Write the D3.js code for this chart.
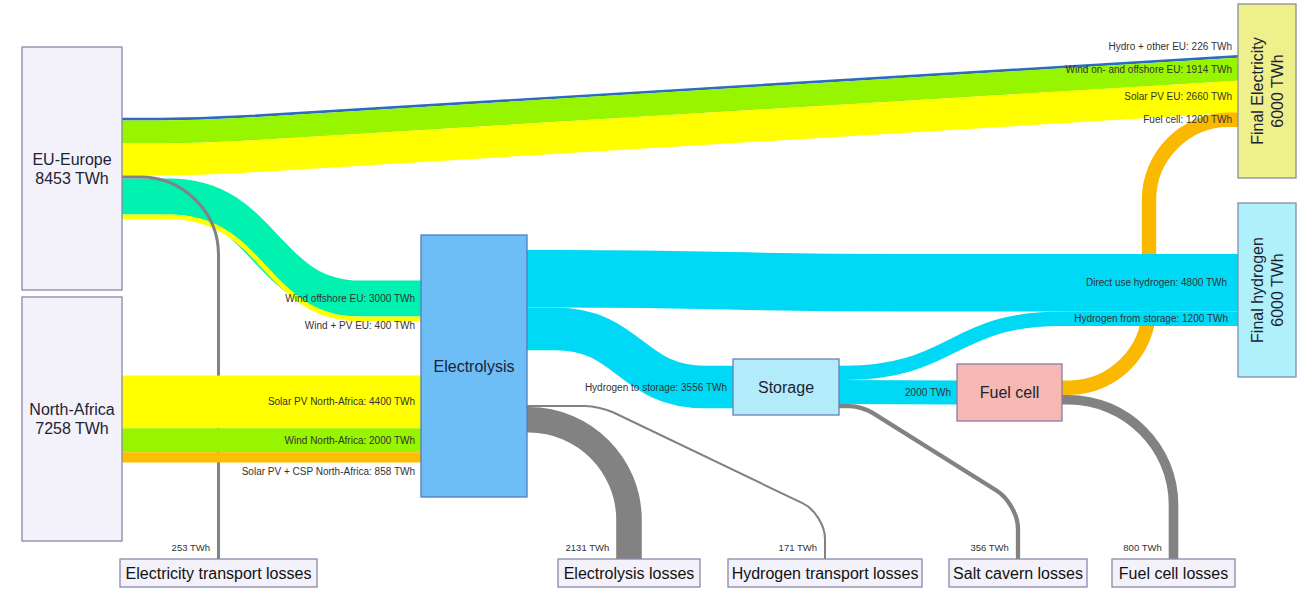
<!DOCTYPE html>
<html>
<head>
<meta charset="utf-8">
<script src="https://cdn.jsdelivr.net/npm/d3@7"></script>
<style>
  body { margin: 0; background: #fff; }
  svg { display: block; font-family: "Liberation Sans", Arial, sans-serif; }
</style>
</head>
<body>
<svg width="1309" height="596"></svg>
<script>
// ---- data (TWh) ----
var nodeNames = ["EU-Europe", "North-Africa", "Electrolysis", "Storage", "Fuel cell",
  "Final Electricity", "Final hydrogen", "Electricity transport losses", "Electrolysis losses",
  "Hydrogen transport losses", "Salt cavern losses", "Fuel cell losses"];
var totalNodes = ["EU-Europe", "North-Africa", "Final Electricity", "Final hydrogen"];

var flowFrom = ["EU-Europe", "EU-Europe", "EU-Europe", "EU-Europe", "EU-Europe", "EU-Europe",
  "North-Africa", "North-Africa", "North-Africa",
  "Electrolysis", "Electrolysis", "Electrolysis", "Electrolysis",
  "Storage", "Storage", "Storage", "Fuel cell", "Fuel cell"];
var flowTo = ["Final Electricity", "Final Electricity", "Final Electricity", "Electricity transport losses",
  "Electrolysis", "Electrolysis", "Electrolysis", "Electrolysis", "Electrolysis",
  "Final hydrogen", "Storage", "Hydrogen transport losses", "Electrolysis losses",
  "Final hydrogen", "Fuel cell", "Salt cavern losses", "Final Electricity", "Fuel cell losses"];
var flowTWh = [226, 1914, 2660, 253, 3000, 400, 4400, 2000, 858, 4800, 3556, 171, 2131, 1200, 2000, 356, 1200, 800];
var flowName = ["Hydro + other EU", "Wind on- and offshore EU", "Solar PV EU", "", "Wind offshore EU",
  "Wind + PV EU", "Solar PV North-Africa", "Wind North-Africa", "Solar PV + CSP North-Africa",
  "Direct use hydrogen", "Hydrogen to storage", "", "", "Hydrogen from storage", "", "", "Fuel cell", ""];

// ---- styles ----
var flowKind = ["hydro", "wind", "solar", "loss", "offshore", "solar", "solar", "wind", "csp",
  "h2", "h2", "loss", "loss", "h2", "h2", "loss", "fuel", "loss"];
var kindColor = { hydro: "#2b6cc0", wind: "#98f500", solar: "#ffff00", offshore: "#00f2b0",
  csp: "#ffbd00", h2: "#00d9f5", fuel: "#fbb800", loss: "#828282" };
var nodeStyle = {
  "Electrolysis": ["#6dbdf6", "#4f7dbd"], "Storage": ["#b2ebfa", "#6b7fb5"],
  "Fuel cell": ["#f5b8b3", "#8f78a8"], "Final Electricity": ["#eef08c", "#8d8d9c"],
  "Final hydrogen": ["#b0f0fa", "#7f8fb0"]
};

// ---- layout ----
var nodeBox = {
  "EU-Europe": [22, 47, 100, 243],
  "North-Africa": [22, 297, 100, 244],
  "Electrolysis": [421, 235, 106, 262],
  "Storage": [733, 359, 106, 56],
  "Fuel cell": [957, 364, 105, 57],
  "Final Electricity": [1238, 4, 58, 174],
  "Final hydrogen": [1238, 203, 58, 174],
  "Electricity transport losses": [120, 559, 197, 28],
  "Electrolysis losses": [558, 559, 142, 28],
  "Hydrogen transport losses": [728, 559, 194, 28],
  "Salt cavern losses": [949, 559, 138, 28],
  "Fuel cell losses": [1112, 559, 123, 28]
};
var lossNodes = nodeNames.slice(7);
var portStart = { "4t": 280.5, "6t": "level", "9s": 250, "11s": 405 };
var route = {
  0: { type: "bend", x: 200, r: 40 }, 1: { type: "bend", x: 200, r: 40 }, 2: { type: "bend", x: 200, r: 40 },
  3: { type: "drop", r: 78 },
  4: { type: "s", xa: 170, xb: 360 }, 5: { type: "s", xa: 170, xb: 360 },
  9: { type: "s", xa: 560, xb: 900 },
  10: { type: "s", xa: 555, xb: 705 },
  11: { type: "slant", x: 600, y: 514, r: [15, 25] },
  12: { type: "drop", r: 100 },
  13: { type: "s", xa: 845, xb: 1060 },
  15: { type: "slant", x: 862, y: 504, r: [12, 25] },
  16: { type: "loop", x: 1149, r: 80 },
  17: { type: "drop", r: 105 }
};
var labelDy = { 0: -9.5, 5: 7, 8: 14.5 };
var labelDx = { 9: -5, 13: -4 };
var drawOrder = [4, 5, 0, 1, 2, 3, 6, 7, 8, 16, 9, 10, 13, 14, 11, 12, 15, 17];

var width = d3.scaleLinear().domain([0, 1000]).range([0, 12]);

var flows = flowTWh.map(function (v, i) {
  return { i: i, v: v, s: flowFrom[i], t: flowTo[i], w: width(v) };
});

// stack the ports on each node side
nodeNames.forEach(function (name) {
  var b = nodeBox[name];
  var outs = flows.filter(function (f) { return f.s === name; });
  var tot = d3.sum(outs, function (f) { return f.w; });
  var cur = b[1] + b[3] / 2 - tot / 2;
  outs.forEach(function (f) {
    if (portStart[f.i + "s"] != null) cur = portStart[f.i + "s"];
    f.sx = b[0] + b[2];
    f.sy = cur + f.w / 2;
    cur += f.w;
  });
});
nodeNames.forEach(function (name) {
  var b = nodeBox[name];
  var ins = flows.filter(function (f) { return f.t === name; });
  if (lossNodes.indexOf(name) >= 0) {
    ins.forEach(function (f) { f.tx = b[0] + b[2] / 2; f.ty = b[1]; f.down = true; });
    return;
  }
  var tot = d3.sum(ins, function (f) { return f.w; });
  var cur = b[1] + b[3] / 2 - tot / 2;
  ins.forEach(function (f) {
    var p = portStart[f.i + "t"];
    if (p === "level") cur = f.sy - f.w / 2;
    else if (p != null) cur = p;
    f.tx = b[0];
    f.ty = cur + f.w / 2;
    cur += f.w;
  });
});

function rounded(pts, radii) {
  var d = "M" + pts[0][0] + "," + pts[0][1];
  for (var k = 1; k < pts.length - 1; k++) {
    var p = pts[k], a0 = pts[k - 1], b0 = pts[k + 1];
    var l1 = Math.hypot(p[0] - a0[0], p[1] - a0[1]);
    var l2 = Math.hypot(b0[0] - p[0], b0[1] - p[1]);
    var r = Array.isArray(radii) ? radii[k - 1] : radii;
    r = Math.min(r, k === 1 ? l1 : l1 / 2, k === pts.length - 2 ? l2 : l2 / 2);
    var a = [p[0] + (a0[0] - p[0]) * r / l1, p[1] + (a0[1] - p[1]) * r / l1];
    var b = [p[0] + (b0[0] - p[0]) * r / l2, p[1] + (b0[1] - p[1]) * r / l2];
    var c = 0.55;
    d += "L" + a[0] + "," + a[1] +
      "C" + (a[0] + (p[0] - a[0]) * c) + "," + (a[1] + (p[1] - a[1]) * c) + " " +
      (b[0] + (p[0] - b[0]) * c) + "," + (b[1] + (p[1] - b[1]) * c) + " " + b[0] + "," + b[1];
  }
  var e = pts[pts.length - 1];
  return d + "L" + e[0] + "," + e[1];
}

function linkPath(f) {
  var rt = route[f.i] || { type: "s" };
  if (rt.type === "bend") return rounded([[f.sx, f.sy], [rt.x, f.sy], [f.tx, f.ty]], rt.r);
  if (rt.type === "drop") return rounded([[f.sx, f.sy], [f.tx, f.sy], [f.tx, f.ty]], rt.r);
  if (rt.type === "slant") return rounded([[f.sx, f.sy], [rt.x, f.sy], [f.tx, rt.y], [f.tx, f.ty]], rt.r);
  if (rt.type === "loop") return rounded([[f.sx, f.sy], [rt.x, f.sy], [rt.x, f.ty], [f.tx, f.ty]], rt.r);
  var xa = rt.xa != null ? rt.xa : f.sx, xb = rt.xb != null ? rt.xb : f.tx, xm = (xa + xb) / 2;
  return "M" + f.sx + "," + f.sy + "H" + xa + "C" + xm + "," + f.sy + " " + xm + "," + f.ty +
    " " + xb + "," + f.ty + "H" + f.tx;
}

var svg = d3.select("svg");

svg.append("g").selectAll("path")
  .data(drawOrder.map(function (i) { return flows[i]; }))
  .join("path")
  .attr("d", linkPath)
  .attr("fill", "none")
  .attr("stroke", function (f) { return kindColor[flowKind[f.i]]; })
  .attr("stroke-width", function (f) { return f.w; });

// nodes
var gNode = svg.append("g").selectAll("g")
  .data(nodeNames)
  .join("g");

gNode.append("rect")
  .attr("x", function (n) { return nodeBox[n][0]; })
  .attr("y", function (n) { return nodeBox[n][1]; })
  .attr("width", function (n) { return nodeBox[n][2]; })
  .attr("height", function (n) { return nodeBox[n][3]; })
  .attr("fill", function (n) { return nodeStyle[n] ? nodeStyle[n][0] : "#f3f2fa"; })
  .attr("stroke", function (n) { return nodeStyle[n] ? nodeStyle[n][1] : "#8a88a8"; })
  .attr("stroke-width", 1.3);

gNode.each(function (n) {
  var b = nodeBox[n];
  var cx = b[0] + b[2] / 2, cy = b[1] + b[3] / 2;
  var g = d3.select(this);
  var lines = [n];
  if (totalNodes.indexOf(n) >= 0) {
    var isSrc = flowFrom.indexOf(n) >= 0;
    var total = d3.sum(flows.filter(function (f) { return isSrc ? f.s === n : f.t === n; }),
      function (f) { return f.v; });
    lines.push(total + " TWh");
  }
  var rotate = n.indexOf("Final") === 0;
  var t = g.append("text")
    .attr("text-anchor", "middle")
    .attr("font-size", 16)
    .attr("fill", lossNodes.indexOf(n) >= 0 ? "#111" : "#1d2333")
    .attr("transform", "translate(" + cx + "," + cy + ")" + (rotate ? " rotate(-90)" : ""));
  var step = rotate ? 20 : 19;
  lines.forEach(function (s, k) {
    t.append("tspan")
      .attr("x", 0)
      .attr("y", (k - (lines.length - 1) / 2) * step)
      .attr("dy", "0.35em")
      .text(s);
  });
});

// flow labels
svg.append("g").selectAll("text")
  .data(flows)
  .join("text")
  .attr("text-anchor", "end")
  .attr("fill", "#333")
  .attr("font-size", function (f) { return f.down ? 9.5 : 10; })
  .attr("x", function (f) {
    return f.down ? f.tx - f.w / 2 - 7 : f.tx - 6 + (labelDx[f.i] || 0);
  })
  .attr("y", function (f) { return f.down ? 548 : f.ty + (labelDy[f.i] || 0); })
  .attr("dy", "0.35em")
  .text(function (f) {
    return flowName[f.i] ? flowName[f.i] + ": " + f.v + " TWh" : f.v + " TWh";
  });
</script>
</body>
</html>
